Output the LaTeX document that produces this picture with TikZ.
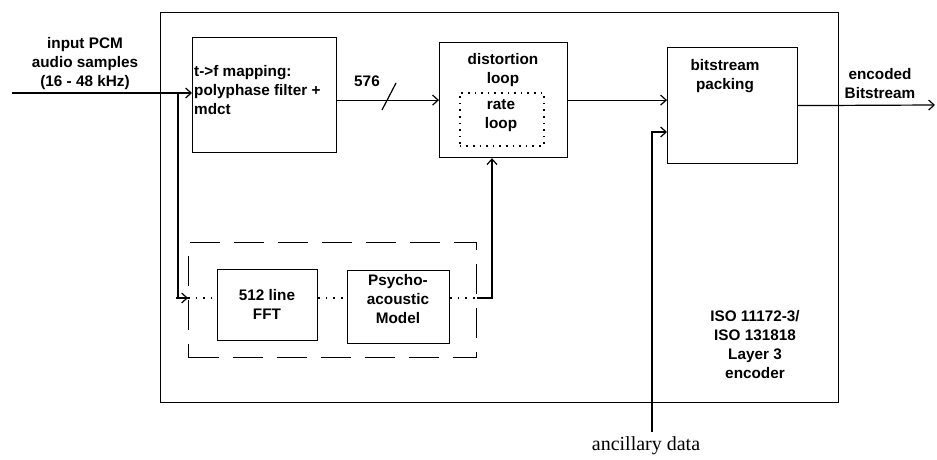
\documentclass[tikz,border=0pt]{standalone}
\usepackage{fontspec}
\setmainfont{Liberation Sans}
\newfontfamily\serifanc{Liberation Serif}
\usetikzlibrary{arrows.meta,calc}
\begin{document}
\begin{tikzpicture}[x=1pt,y=-1pt,
  box/.style={draw, line width=1.2pt, inner sep=0pt, anchor=north west},
  txt/.style={font=\bfseries\fontsize{15.3}{19}\selectfont, align=center, inner sep=0pt},
  arr/.style={-{Straight Barb[length=5.5pt,width=10pt]}, line width=1.2pt},
  ln/.style={line width=1.2pt},
  dotline/.style={line width=1.6pt, dash pattern=on 1.6pt off 6pt}]
\useasboundingbox (0,0) rectangle (937,460);
% boxes
\node[box, minimum width=678, minimum height=390] (outer) at (160,12) {};
\node[box, minimum width=144, minimum height=115] (tf) at (192,37) {};
\node[box, minimum width=128, minimum height=115] (dist) at (439,42) {};
\node[box, minimum width=84, minimum height=53, line width=1.6pt, dash pattern=on 1.6pt off 5pt] (rate) at (459,92) {};
\node[box, minimum width=130, minimum height=116] (bp) at (667,47) {};
\node[box, minimum width=288, minimum height=115, dash pattern=on 30pt off 14pt] (dash) at (188,242) {};
\node[box, minimum width=100, minimum height=71] (fft) at (217,269) {};
\node[box, minimum width=102, minimum height=73] (psy) at (347,270) {};
% texts
\node[txt] (tin) at (85,64) {input PCM\\audio samples\\(16 - 48 kHz)};
\node[txt, align=left, anchor=west] (ttf) at (194,90) {t->f mapping:\\polyphase filter +\\mdct};
\node[txt] (t576) at (367,81) {576};
\node[txt] (tdist) at (503,70) {distortion\\loop};
\node[txt] (trate) at (501,116) {rate\\loop};
\node[txt] (tbp) at (725,76) {bitstream\\packing};
\node[txt] (tenc) at (880,84) {encoded\\Bitstream};
\node[txt] (tfft) at (267,304) {512 line\\FFT};
\node[txt] (tpsy) at (398,299) {Psycho-\\acoustic\\Model};
\node[txt] (tiso) at (755,345) {ISO 11172-3/\\ISO 131818\\Layer 3\\encoder};
\node[font=\serifanc\fontsize{20}{24}\selectfont, inner sep=0pt] (tanc) at (646,446) {ancillary data};
% coordinates
\coordinate (in) at (12,93);
\coordinate (br) at (178,93);
\coordinate (ylow) at (0,298);
\coordinate (out) at (935,105);
\coordinate (anc) at (652,432);
\coordinate (anctop) at (652,132);
\coordinate (fb) at (492,298);
% connectors
\draw[arr] (in) -- (in -| tf.west);
\draw[ln] (br) |- (dash.west |- ylow);
\draw[arr] ($(dash.west |- ylow)+(-12,0)$) -- (dash.west |- ylow);
\draw[dotline] (dash.west |- ylow) -- (fft.west |- ylow);
\draw[dotline] (fft.east |- ylow) -- (psy.west |- ylow);
\draw[dotline] (psy.east |- fb) -- (dash.east |- fb);
\draw[arr] (dash.east |- fb) -- (fb) -- (fb |- dist.south);
\draw[arr] (tf.east |- dist.west) -- (dist.west);
\draw[ln] (382,110) -- (396,83);
\draw[arr] (dist.east) -- (dist.east -| bp.west);
\draw[arr] (bp.east) -- (out);
\draw[arr] (anc) -- (anctop) -- (anctop -| bp.west);
\end{tikzpicture}
\end{document}
